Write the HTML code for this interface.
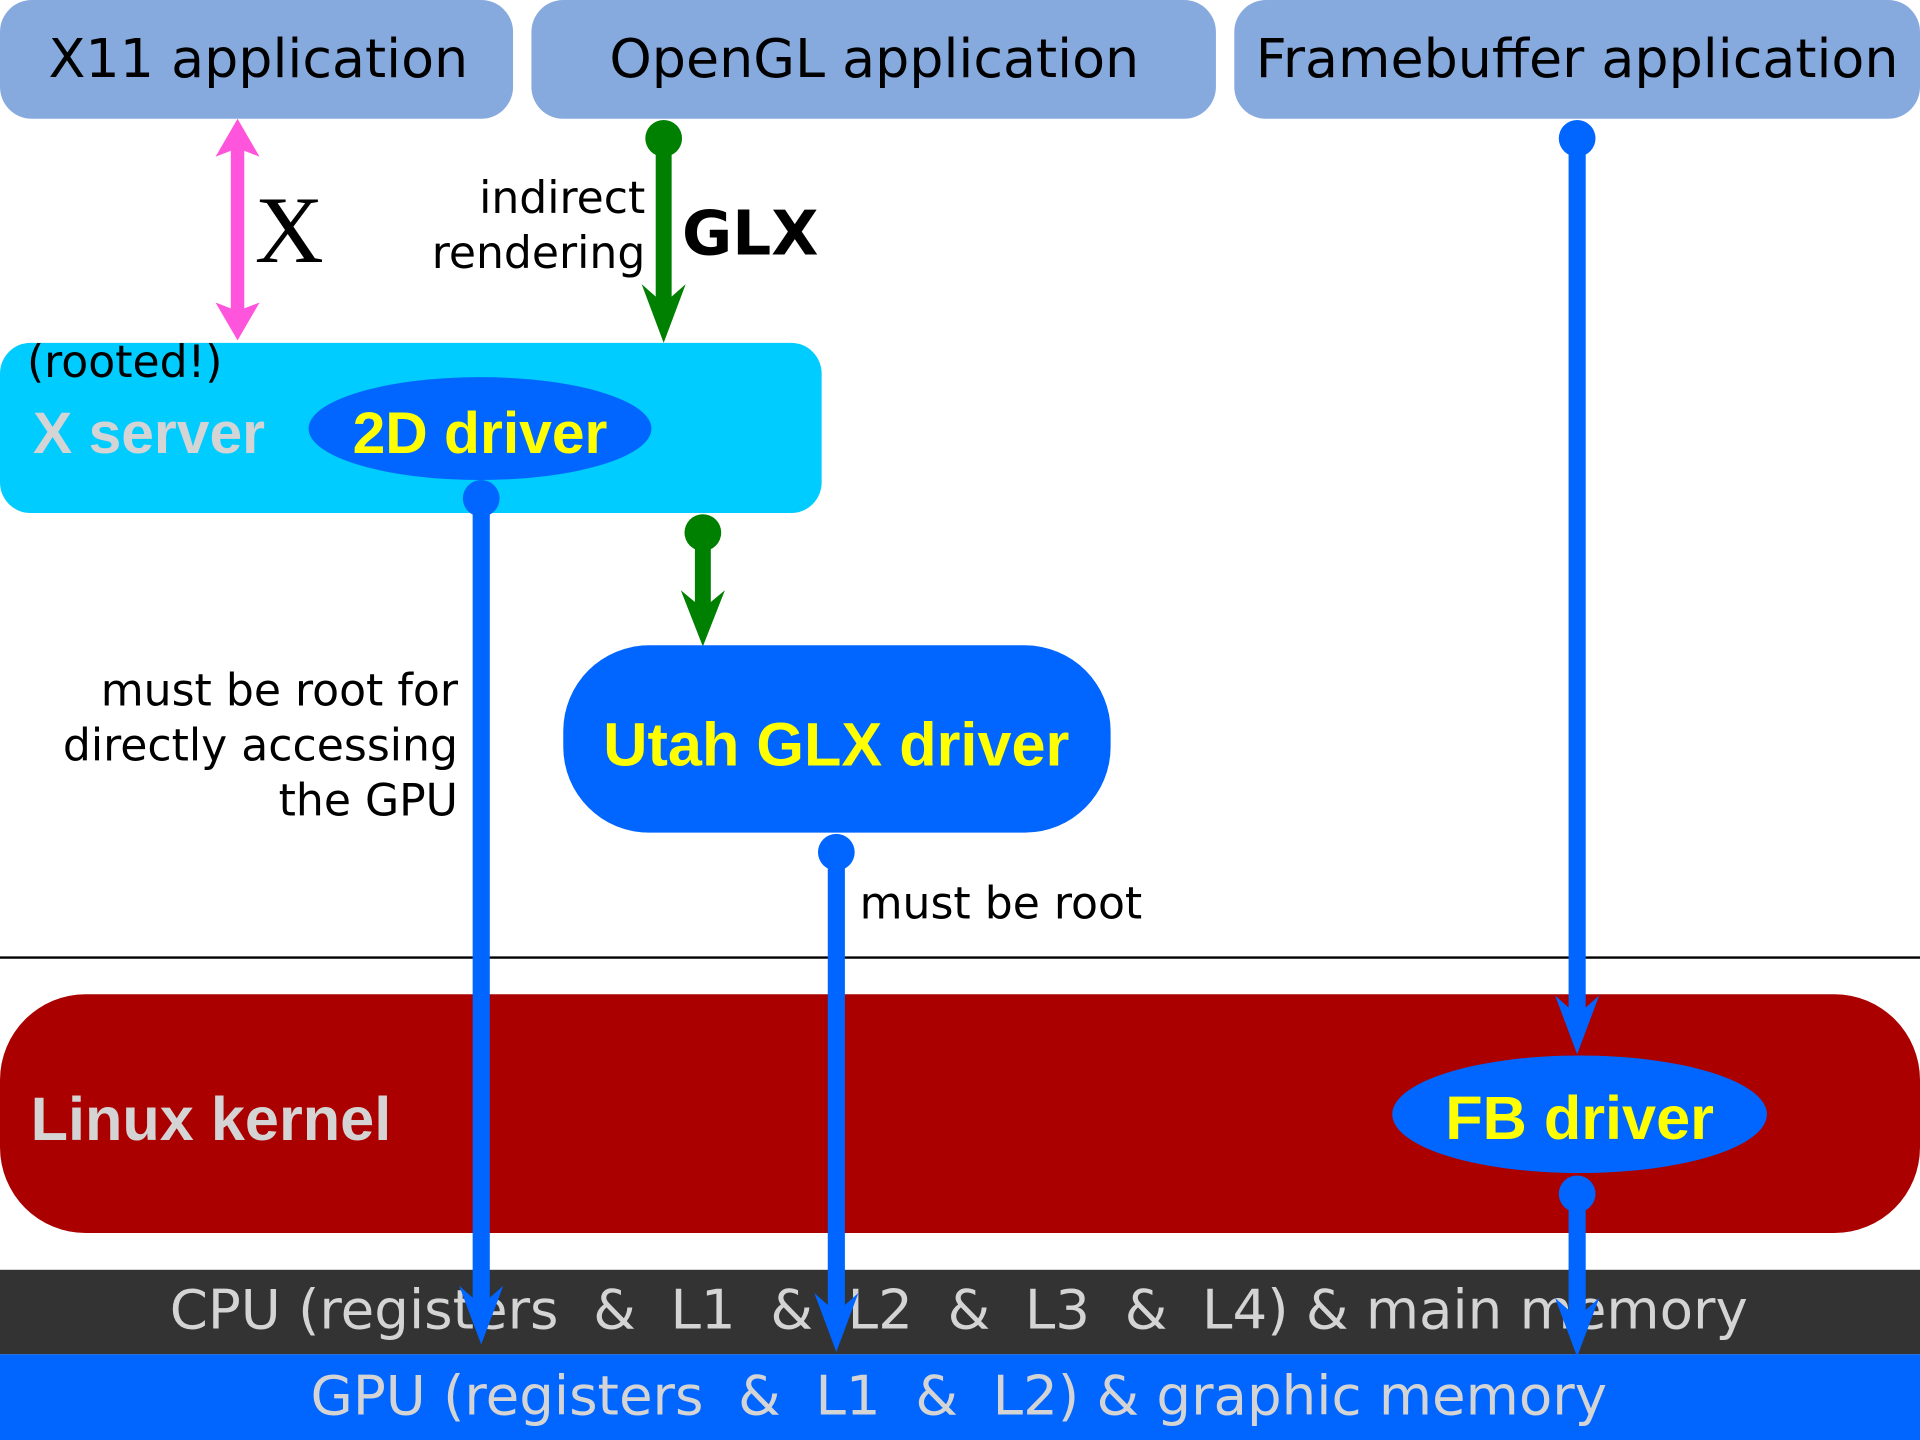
<!DOCTYPE html>
<html><head><meta charset="utf-8"><style>html,body{margin:0;padding:0;background:#fff}svg{display:block}</style></head>
<body>
<svg width="1920" height="1440" viewBox="0 0 1568 1176" xmlns="http://www.w3.org/2000/svg" font-family="'DejaVu Sans','Liberation Sans',sans-serif">
<rect width="1568" height="1176" fill="#fff"/>
<!-- top boxes -->
<rect x="0" y="0" width="419" height="97" rx="26" fill="#87aade"/>
<rect x="434" y="0" width="559" height="97" rx="26" fill="#87aade"/>
<rect x="1008" y="0" width="560" height="97" rx="26" fill="#87aade"/>
<text x="211" y="63" font-size="44" text-anchor="middle">X11 application</text>
<text x="714" y="63" font-size="44" text-anchor="middle">OpenGL application</text>
<text x="1288" y="63" font-size="44" text-anchor="middle">Framebuffer application</text>
<!-- pink X arrow -->
<line x1="194" y1="120" x2="194" y2="255" stroke="#ff55dd" stroke-width="11"/>
<path d="M194,97 L212,128 L194,121 L176,128 Z" fill="#ff55dd"/>
<path d="M194,278 L212,247 L194,254 L176,247 Z" fill="#ff55dd"/>
<text x="208" y="214" font-size="78" font-family="'Liberation Serif',serif">X</text>
<!-- GLX -->
<line x1="542" y1="113" x2="542" y2="255" stroke="#008000" stroke-width="13"/>
<circle cx="542" cy="113" r="15" fill="#008000"/>
<path d="M542,280 L560,232 L542,248 L524,232 Z" fill="#008000"/>
<text x="527" y="174" font-size="36" text-anchor="end">indirect</text>
<text x="527" y="219" font-size="36" text-anchor="end">rendering</text>
<text x="557" y="208" font-size="50" font-weight="bold">GLX</text>
<!-- X server -->
<rect x="0" y="280" width="671" height="139" rx="25" fill="#00ccff"/>
<text x="22" y="308" font-size="36">(rooted!)</text>
<text x="27" y="370" font-size="48" font-weight="bold" fill="#d4d4d4" font-family="'Liberation Sans',sans-serif">X server</text>
<ellipse cx="392" cy="350" rx="140" ry="42" fill="#0066ff"/>
<text x="392" y="370" font-size="48" font-weight="bold" fill="#ffff00" text-anchor="middle" font-family="'Liberation Sans',sans-serif">2D driver</text>
<!-- green second -->
<line x1="574" y1="435" x2="574" y2="505" stroke="#008000" stroke-width="13"/>
<circle cx="574" cy="435" r="15" fill="#008000"/>
<path d="M574,528 L592,482 L574,497 L556,482 Z" fill="#008000"/>
<!-- Utah -->
<rect x="460" y="527" width="447" height="153" rx="70" fill="#0066ff"/>
<text x="683" y="625" font-size="50" font-weight="bold" fill="#ffff00" text-anchor="middle" font-family="'Liberation Sans',sans-serif">Utah GLX driver</text>
<text x="374" y="576" font-size="36" text-anchor="end">must be root for</text>
<text x="374" y="621" font-size="36" text-anchor="end">directly accessing</text>
<text x="374" y="666" font-size="36" text-anchor="end">the GPU</text>
<text x="702" y="750" font-size="36">must be root</text>
<line x1="0" y1="782" x2="1568" y2="782" stroke="#000" stroke-width="2"/>
<!-- kernel -->
<rect x="0" y="812" width="1568" height="195" rx="70" fill="#aa0000"/>
<text x="25" y="931" font-size="50" font-weight="bold" fill="#d4d4d4" font-family="'Liberation Sans',sans-serif">Linux kernel</text>
<ellipse cx="1290" cy="910" rx="153" ry="48" fill="#0066ff"/>
<text x="1290" y="930" font-size="50" font-weight="bold" fill="#ffff00" text-anchor="middle" font-family="'Liberation Sans',sans-serif">FB driver</text>
<!-- bars -->
<rect x="0" y="1037" width="1568" height="69" fill="#333333"/>
<rect x="0" y="1106" width="1568" height="70" fill="#0066ff"/>
<text x="783" y="1085" font-size="44.6" fill="#d4d4d4" text-anchor="middle" xml:space="preserve">CPU (registers  &amp;  L1  &amp;  L2  &amp;  L3  &amp;  L4) &amp; main memory</text>
<text x="783" y="1155" font-size="44.6" fill="#d4d4d4" text-anchor="middle" xml:space="preserve">GPU (registers  &amp;  L1  &amp;  L2) &amp; graphic memory</text>
<!-- blue arrows -->
<g fill="#0066ff" stroke="#0066ff">
<line x1="393" y1="407" x2="393" y2="1075" stroke-width="14"/>
<circle cx="393" cy="407" r="15" stroke="none"/>
<path d="M393,1098 L411,1050 L393,1066 L375,1050 Z" stroke="none"/>
<line x1="683" y1="696" x2="683" y2="1080" stroke-width="14"/>
<circle cx="683" cy="696" r="15" stroke="none"/>
<path d="M683,1104 L701,1056 L683,1072 L665,1056 Z" stroke="none"/>
<line x1="1288" y1="113" x2="1288" y2="838" stroke-width="14"/>
<circle cx="1288" cy="113" r="15" stroke="none"/>
<path d="M1288,861 L1306,813 L1288,829 L1270,813 Z" stroke="none"/>
<line x1="1288" y1="975" x2="1288" y2="1085" stroke-width="14"/>
<circle cx="1288" cy="975" r="15" stroke="none"/>
<path d="M1288,1108 L1306,1060 L1288,1076 L1270,1060 Z" stroke="none"/>
</g>
</svg>
</body></html>
